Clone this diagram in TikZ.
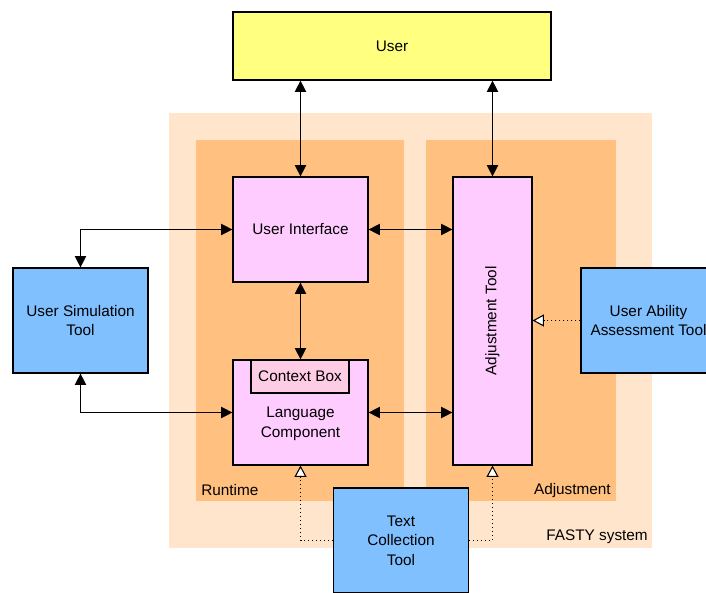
\documentclass[tikz,border=0pt]{standalone}
\usepackage{fontspec}
\setmainfont{Liberation Sans}
\usetikzlibrary{arrows.meta}

\definecolor{userfill}{HTML}{FFFF80}
\definecolor{systemfill}{HTML}{FFE5CC}
\definecolor{panelfill}{HTML}{FFC080}
\definecolor{compfill}{HTML}{FFCCFF}
\definecolor{contextfill}{HTML}{FFCCE6}
\definecolor{toolfill}{HTML}{80C0FF}

\tikzset{
  box/.style={draw, line width=0.9pt, inner sep=0pt, align=center},
  compbox/.style={box, fill=compfill, minimum width=101.25pt, minimum height=78.75pt},
  toolbox/.style={box, fill=toolfill, minimum width=101.25pt, minimum height=78.75pt},
  biarrow/.style={line width=0.9pt, {Triangle[length=8.5pt,width=8.5pt]}-{Triangle[length=8.5pt,width=8.5pt]}},
  feedarrow/.style={line width=0.8pt, dash pattern=on 0.8pt off 2.2pt, -{Triangle[length=8.5pt,width=9pt,fill=white]}},
  tag/.style={inner sep=0pt, align=center}
}

\begin{document}
\begin{tikzpicture}[x=0.75pt,y=0.75pt,yscale=-1, font=\fontsize{11.5}{14.6}\selectfont]
  \useasboundingbox (0,0) rectangle (706,592);

  %Shape: Rectangle [FASTY system]
  \fill [systemfill] (169,113) rectangle (652,548);
  %Shape: Rectangle [Runtime]
  \fill [panelfill] (196,140) rectangle (404,501);
  %Shape: Rectangle [Adjustment]
  \fill [panelfill] (426,140) rectangle (616,501);

  % Text Node
  \node [tag, anchor=base west] (runtimelabel) at (201,495) {Runtime};
  \node [tag, anchor=base east] (adjlabel) at (611,494) {Adjustment};
  \node [tag, anchor=base east] (fastylabel) at (648,540) {FASTY system};

  % Components
  \node [box, fill=userfill, minimum width=238.5pt, minimum height=51pt] (user) at (392,46) {User};
  \node [compbox] (ui) at (300.5,229.5) {User Interface};
  \node [compbox] (lang) at (300.5,412.5) {};
  \node [box, fill=contextfill, minimum width=73.5pt, minimum height=24.75pt] (context) at (300,376.5) {Context Box};
  \node [tag] (langtext) at (300.5,424) {Language\\Component};
  % rotated: north is the left side, south the right side
  \node [box, fill=compfill, minimum width=216pt, minimum height=59.25pt, rotate=90] (adj) at (492.5,321) {Adjustment Tool};

  % Tools
  \node [toolbox] (usersim) at (80.5,320.5) {User Simulation\\Tool};
  \node [toolbox] (ability) at (648.5,320.5) {User Ability\\Assessment Tool};
  \node [toolbox] (textcoll) at (401,540.5) {Text\\Collection\\Tool};

  %Straight Lines
  \draw [biarrow] (ui.north |- user.south) -- (ui.north);
  \draw [biarrow] (adj.east |- user.south) -- (adj.east);
  \draw [biarrow] (ui.east) -- (ui.east -| adj.north);
  \draw [biarrow] (ui.south) -- (lang.north);
  \draw [biarrow] (lang.east) -- (lang.east -| adj.north);
  \draw [biarrow] (usersim.north) |- (ui.west);
  \draw [biarrow] (usersim.south) |- (lang.west);

  %Dotted Lines
  \draw [feedarrow] (ability.west) -- (ability.west -| adj.south);
  \draw [feedarrow] (textcoll.west) -| (lang.south);
  \draw [feedarrow] (textcoll.east) -| (adj.west);

\end{tikzpicture}
\end{document}
